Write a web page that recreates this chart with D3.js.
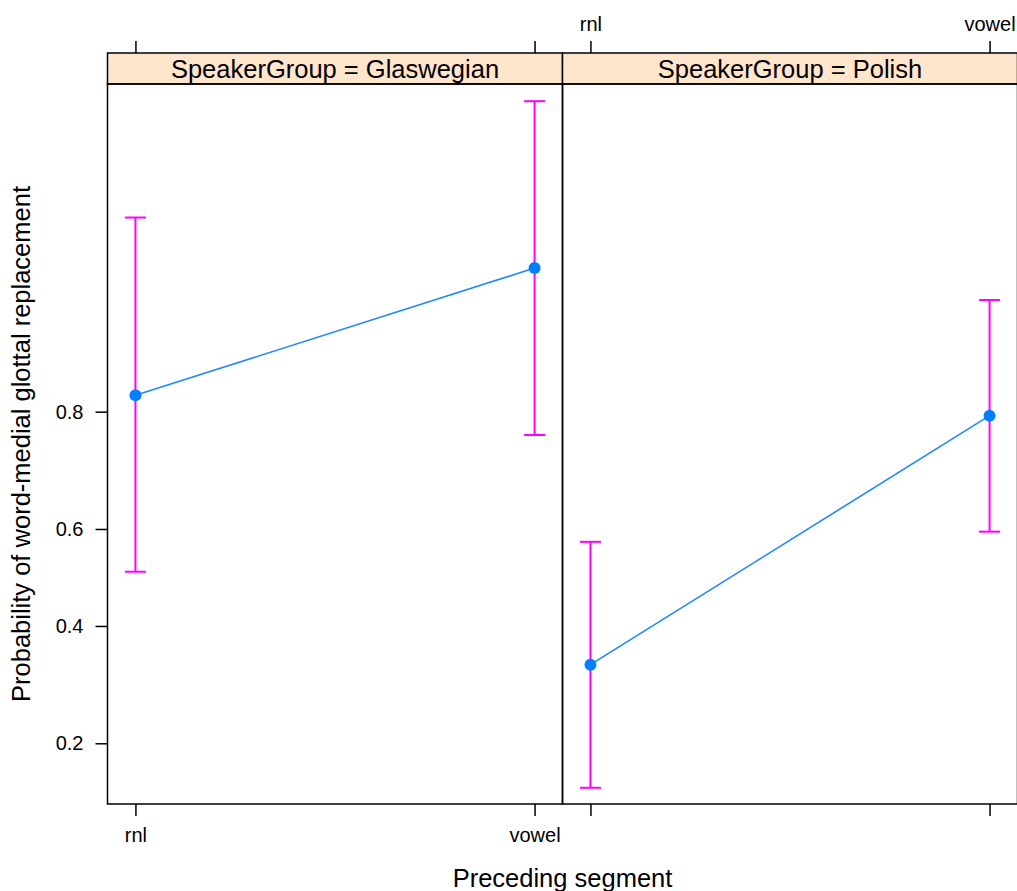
<!DOCTYPE html>
<html>
<head>
<meta charset="utf-8">
<script src="https://cdn.jsdelivr.net/npm/d3@7"></script>
<style>
body { margin: 0; background: #fff; }
svg { display: block; }
text { font-family: "Liberation Sans", Arial, sans-serif; fill: #000; }
</style>
</head>
<body>
<svg id="chart" width="1017" height="891"></svg>
<script>
// data (probabilities)
var groups = ["Glaswegian", "Polish"]
var segments = ["rnl", "vowel"]
var fitGlaswegian = [0.821, 0.930]
var lowerGlaswegian = [0.512, 0.767]
var upperGlaswegian = [0.953, 0.9817]
var fitPolish = [0.3254, 0.7946]
var lowerPolish = [0.147, 0.5946]
var upperPolish = [0.574, 0.9105]
var yTicks = [0.2, 0.4, 0.6, 0.8]

var panels = [
    {group: groups[0], fit: fitGlaswegian, lower: lowerGlaswegian, upper: upperGlaswegian},
    {group: groups[1], fit: fitPolish, lower: lowerPolish, upper: upperPolish}
]

function logit(p){ return Math.log(p / (1 - p)) }

// note: "top" is window.top, so use other names
var plotLeft = 107.5, panelW = 455
var plotTop = 84, plotBottom = 804
var stripTop = 53

var svg = d3.select("#chart")

var y = d3.scaleLinear().domain([-1.894, 4.126]).range([plotBottom, plotTop])
var x = d3.scalePoint().domain(segments).range([0, panelW]).padding(0.07)

panels.forEach(function(d, i){
    var px = plotLeft + i * panelW
    var g = svg.append("g").attr("transform", "translate(" + px + ",0)")

    // strip
    g.append("rect")
        .attr("x", 0).attr("y", stripTop)
        .attr("width", panelW).attr("height", plotTop - stripTop)
        .style("fill", "#ffe5cc").style("stroke", "#000").style("stroke-width", 1.5)
    g.append("text")
        .attr("x", panelW / 2).attr("y", 78)
        .attr("text-anchor", "middle")
        .style("font-size", "25.5px")
        .text("SpeakerGroup = " + d.group)

    // panel frame
    g.append("rect")
        .attr("x", 0).attr("y", plotTop)
        .attr("width", panelW).attr("height", plotBottom - plotTop)
        .style("fill", "none").style("stroke", "#000").style("stroke-width", 1.5)

    // top axis: labels on the right panel only
    var topAxis = d3.axisTop(x).tickSizeInner(12).tickSizeOuter(0).tickPadding(10)
    if (i == 0) topAxis.tickFormat("")
    var ta = g.append("g").attr("transform", "translate(0," + stripTop + ")").call(topAxis)
    ta.select(".domain").remove()

    // bottom axis: labels on the left panel only
    var bottomAxis = d3.axisBottom(x).tickSizeInner(12).tickSizeOuter(0).tickPadding(12)
    if (i == 1) bottomAxis.tickFormat("")
    var ba = g.append("g").attr("transform", "translate(0," + plotBottom + ")").call(bottomAxis)
    ba.select(".domain").remove()

    g.selectAll(".tick line").style("stroke", "#000").style("stroke-width", 1.5)
    g.selectAll(".tick text").style("font-size", "20px")
        .style("font-family", '"Liberation Sans", Arial, sans-serif')

    // error bars
    var bars = g.append("g")
    segments.forEach(function(s, j){
        var cx = x(s)
        bars.append("line")
            .attr("x1", cx).attr("x2", cx)
            .attr("y1", y(logit(d.lower[j]))).attr("y2", y(logit(d.upper[j])))
        bars.append("line")
            .attr("x1", cx - 10.5).attr("x2", cx + 10.5)
            .attr("y1", y(logit(d.lower[j]))).attr("y2", y(logit(d.lower[j])))
        bars.append("line")
            .attr("x1", cx - 10.5).attr("x2", cx + 10.5)
            .attr("y1", y(logit(d.upper[j]))).attr("y2", y(logit(d.upper[j])))
    })
    bars.selectAll("line").style("stroke", "#ff00ff").style("stroke-width", 2)

    // fitted line + points
    var line = d3.line()
        .x(function(v, j){ return x(segments[j]) })
        .y(function(v){ return y(logit(v)) })
    g.append("path")
        .datum(d.fit)
        .attr("d", line)
        .style("fill", "none").style("stroke", "#1e88ff").style("stroke-width", 1.6)
    g.selectAll(".pt")
        .data(d.fit)
        .enter()
        .append("circle")
        .attr("class", "pt")
        .attr("cx", function(v, j){ return x(segments[j]) })
        .attr("cy", function(v){ return y(logit(v)) })
        .attr("r", 6)
        .style("fill", "#0080ff")
})

// y axis
var yAxis = d3.axisLeft(y)
    .tickValues(yTicks.map(logit))
    .tickFormat(function(v, i){ return yTicks[i] })
    .tickSizeInner(12).tickSizeOuter(0).tickPadding(12)
var ya = svg.append("g").attr("transform", "translate(" + plotLeft + ",0)").call(yAxis)
ya.select(".domain").remove()
ya.selectAll(".tick line").style("stroke", "#000").style("stroke-width", 1.5)
ya.selectAll(".tick text").style("font-size", "20px")
    .style("font-family", '"Liberation Sans", Arial, sans-serif')

// axis titles
svg.append("text")
    .attr("x", plotLeft + panelW).attr("y", 887)
    .attr("text-anchor", "middle")
    .style("font-size", "25.5px")
    .text("Preceding segment")

svg.append("text")
    .attr("transform", "translate(30," + (plotTop + plotBottom) / 2 + ") rotate(-90)")
    .attr("text-anchor", "middle")
    .style("font-size", "25.5px")
    .text("Probability of word-medial glottal replacement")
</script>
</body>
</html>
